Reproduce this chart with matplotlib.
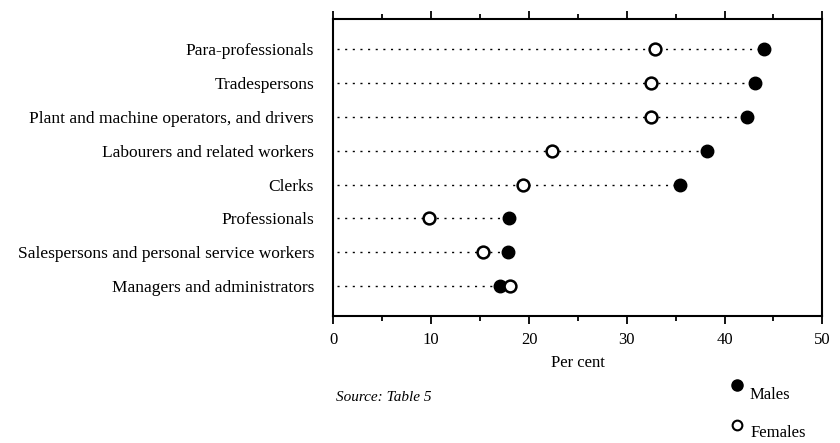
import matplotlib
matplotlib.use("Agg")
import matplotlib.pyplot as plt
from matplotlib.lines import Line2D
from matplotlib.ticker import MultipleLocator

categories = [
    "Para-professionals",
    "Tradespersons",
    "Plant and machine operators, and drivers",
    "Labourers and related workers",
    "Clerks",
    "Professionals",
    "Salespersons and personal service workers",
    "Managers and administrators",
]
males = [44.0, 43.1, 42.3, 38.2, 35.4, 18.0, 17.9, 17.0]
females = [32.9, 32.5, 32.5, 22.4, 19.4, 9.8, 15.3, 18.1]
x_ticks = [0, 10, 20, 30, 40, 50]

plt.rcParams['font.family'] = ['Liberation Serif', 'DejaVu Serif']

fig = plt.figure(figsize=(8.4, 4.43), dpi=100)
ax = fig.add_axes([0.397, 0.286, 0.582, 0.671])

n = len(categories)
ypos = list(range(n, 0, -1))

for y, m, f in zip(ypos, males, females):
    ax.plot([0.4, max(m, f)], [y, y], color='black', lw=1.0,
            linestyle=(0, (1.5, 4)), zorder=1)

ax.plot(males, ypos, 'o', color='black', markersize=9, zorder=3, linestyle='none')
ax.plot(females, ypos, 'o', markerfacecolor='white', markeredgecolor='black',
        markeredgewidth=1.8, markersize=8.5, zorder=4, linestyle='none')

ax.set_xlim(0, 50)
ax.set_ylim(0.1, 8.9)
ax.set_yticks(ypos)
ax.set_yticklabels(categories, fontsize=12.5)
ax.tick_params(axis='y', length=0, pad=14)
ax.set_xticks(x_ticks)
ax.set_xticklabels([str(t) for t in x_ticks], fontsize=12)
ax.xaxis.set_minor_locator(MultipleLocator(5))
ax.tick_params(axis='x', which='major', direction='out', length=6, width=1.3,
               top=True, labeltop=False, pad=5)
ax.tick_params(axis='x', which='minor', direction='out', length=3.5, width=1.3,
               top=True)
for s in ax.spines.values():
    s.set_linewidth(1.5)

ax.set_xlabel("Per cent", fontsize=12, labelpad=5)

fig.text(0.400, 0.102, "Source: Table 5", fontsize=11, style='italic',
         ha='left', va='center')

# legend keys
fig.add_artist(Line2D([0.877], [0.130], marker='o', color='black',
                      linestyle='none', markersize=8, transform=fig.transFigure))
fig.add_artist(Line2D([0.877], [0.040], marker='o', markerfacecolor='white',
                      markeredgecolor='black', markeredgewidth=1.5,
                      linestyle='none', markersize=7, transform=fig.transFigure))
fig.text(0.892, 0.108, "Males", fontsize=12, ha='left', va='center')
fig.text(0.894, 0.022, "Females", fontsize=12, ha='left', va='center')

fig.savefig("out.png", dpi=100)
